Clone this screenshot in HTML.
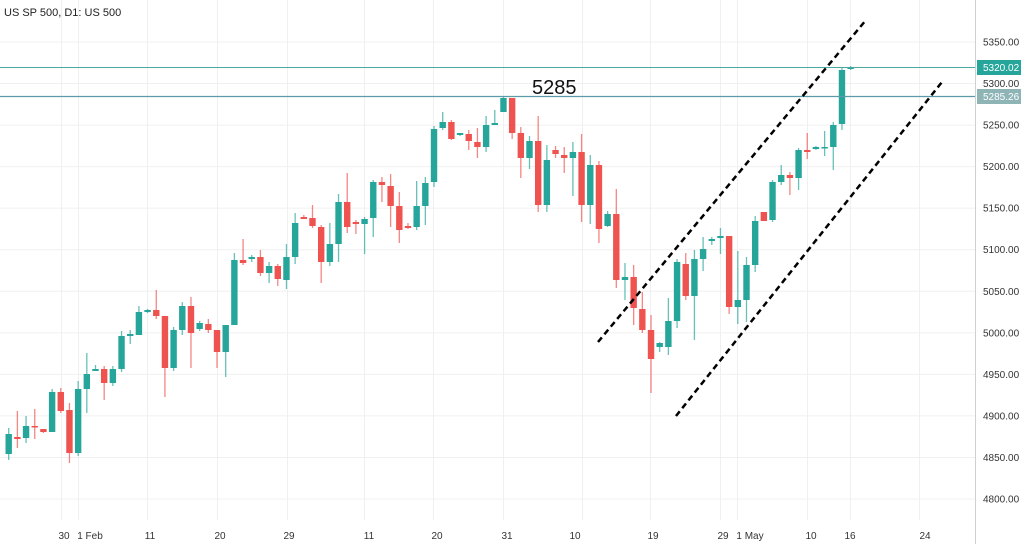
<!DOCTYPE html>
<html><head><meta charset="utf-8"><style>
html,body{margin:0;padding:0;background:#fff;width:1024px;height:544px;overflow:hidden}
svg{display:block;font-family:"Liberation Sans",sans-serif}
</style></head><body>
<svg id="c" width="1024" height="544" xmlns="http://www.w3.org/2000/svg">
<rect width="1024" height="544" fill="#fff"/>
<g id="grid" stroke="#f0f0f0" stroke-width="1"></g>
<line x1="975.5" y1="0" x2="975.5" y2="544" stroke="#d0d0d0"/>
<g id="candles"></g>
<line x1="0" y1="67.5" x2="975" y2="67.5" stroke="#4aa8a0" stroke-width="1"/>
<line x1="0" y1="96.5" x2="975" y2="96.5" stroke="#5b9aa8" stroke-width="1.2"/>
<line x1="598" y1="342" x2="866" y2="20" stroke="#000" stroke-width="2.5" stroke-dasharray="6,4"/>
<line x1="676" y1="416" x2="942" y2="82" stroke="#000" stroke-width="2.5" stroke-dasharray="6,4"/>
<text x="532" y="94" font-size="20" fill="#111">5285</text>
<text x="4" y="16" font-size="11" fill="#222">US SP 500, D1: US 500</text>
<g id="axis" font-size="10" fill="#333"></g>
<rect x="977" y="60" width="44" height="15" fill="#26a69a"/>
<text x="983" y="71" font-size="10" fill="#fff">5320.02</text>
<rect x="977" y="89" width="44" height="15" fill="#8fb4b6"/>
<text x="983" y="100" font-size="10" fill="#fff">5285.26</text>
</svg>
<script>
var NS="http://www.w3.org/2000/svg";
function el(p,t,a,txt){var e=document.createElementNS(NS,t);for(var k in a)e.setAttribute(k,a[k]);if(txt)e.textContent=txt;p.appendChild(e);return e;}
var grid=document.getElementById('grid'),axis=document.getElementById('axis'),cg=document.getElementById('candles');
for(var p=4800;p<=5350;p+=50){var y=42+(5350-p)*0.8309;el(grid,'line',{x1:0,x2:975,y1:y,y2:y});
 el(axis,'text',{x:983,y:y+3.5},p.toFixed(2));}
[61,78,147,217,287,364,433,503,582,650,720,737,807,850,919].forEach(function(x){el(grid,'line',{x1:x+.5,x2:x+.5,y1:0,y2:520});});
[[64,"30"],[90,"1 Feb"],[150,"11"],[220,"20"],[289,"29"],[369,"11"],[437,"20"],[507,"31"],[575,"10"],[653,"19"],[723,"29"],[750,"1 May"],[811,"10"],[850,"16"],[925,"24"]].forEach(function(l){el(axis,'text',{x:l[0],y:539,'text-anchor':'middle'},l[1]);});
var d=[
['g',434,454,428,460],['r',437,439,411,448],['g',426,438,416,443],['r',426,427,409,439],['r',429,432,429,433],
['g',392,432,389,432],['r',392,411,388,413],['r',410,453,403,463],['g',389,453,381,456],['g',374,389,353,413],
['g',369,371,365,371],['r',369,383,366,400],['g',369,383,366,386],['g',336,369,331,372],['g',334,336,330,344],
['g',312,335,306,335],['g',310,312,309,313],['r',310,316,290,319],['r',316,368,316,397],['g',330,368,327,371],
['g',306,330,302,335],['r',306,333,297,368],['g',323,329,321,331],['r',324,330,319,333],['r',330,352,330,368],
['g',325,352,325,377],['g',260,325,253,325],['r',260,263,239,265],['g',257,259,255,262],['r',257,273,250,276],
['g',266,273,262,283],['r',266,279,264,286],['g',257,280,244,289],['g',223,257,213,264],['r',217,219,215,219],
['r',218,226,205,228],['r',227,262,225,283],['g',244,262,223,266],['g',202,244,194,262],['r',202,227,173,233],
['r',222,224,220,234],['g',219,224,217,254],['g',182,218,180,237],['r',182,185,177,202],['r',186,206,174,227],
['r',206,230,192,243],['r',226,228,223,229],['g',206,227,181,230],['g',183,206,177,225],['g',129,182,126,187],
['g',122,128,112,130],['r',122,139,120,140],['g',133,135,133,136],['r',134,141,130,150],['r',142,147,128,158],
['g',125,147,116,152],['g',123,125,110,125],['g',98,112,96,112],['r',98,133,98,139],['r',133,158,127,178],
['g',141,158,136,169],['r',141,205,116,212],['g',160,205,145,212],['r',150,154,146,158],['r',155,158,147,173],
['g',152,158,142,196],['r',152,205,134,222],['g',165,205,155,224],['r',165,229,161,243],['g',214,226,211,227],
['r',214,280,189,288],['g',277,280,263,300],['r',277,308,265,325],['r',309,330,292,333],['r',330,359,315,393],
['g',343,347,342,352],['g',321,347,298,355],['g',262,321,259,328],['r',264,296,253,300],['g',259,296,250,340],
['g',249,259,237,271],['g',239,241,237,245],['g',236,238,228,254],['r',236,307,236,314],['g',300,307,251,324],
['g',265,300,257,322],['g',221,265,216,272],['r',212,221,212,221],['g',182,220,180,222],['g',175,182,165,185],
['r',175,178,172,195],['g',150,178,148,190],['r',150,152,133,159],['g',147,149,146,150],['g',147,148,131,156],
['g',125,147,122,170],['g',70,124,68,130],['g',67,69,66,70]];
d.forEach(function(c,i){var x=8.7+i*8.68;var col=c[0]=='g'?'#26a69a':'#ef5350';
 el(cg,'line',{x1:x,x2:x,y1:c[3],y2:c[4],stroke:col,'stroke-width':1.3,'stroke-opacity':0.7});
 var h=Math.max(c[2]-c[1],1.5);el(cg,'rect',{x:x-3.2,y:c[1],width:6.4,height:h,fill:col});});
</script>
</body></html>
